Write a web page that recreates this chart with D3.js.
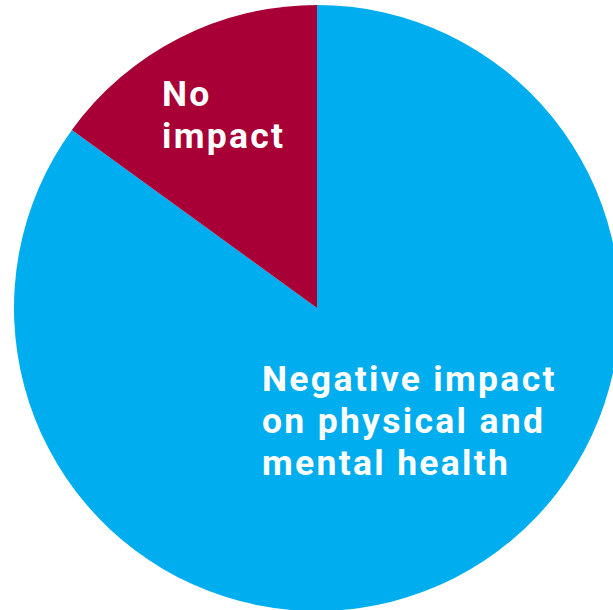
<!DOCTYPE html>
<html>
<head>
<meta charset="utf-8">
<script src="https://cdn.jsdelivr.net/npm/d3@7"></script>
<style>
  html, body { margin: 0; padding: 0; background: #ffffff; }
  svg { display: block; }
  .label { font-family: Roboto, sans-serif; font-weight: 700; fill: #ffffff; }
</style>
</head>
<body>
<svg id="chart" width="613" height="610"></svg>
<script>
// Share of respondents by reported impact (percent)
const categories = ["Negative impact on physical and mental health", "No impact"];
const values = [85, 15];
const colors = ["#00adee", "#a80036"];
// Label lines as printed on each slice
const labelLines = [
  ["Negative impact", "on physical and", "mental health"],
  ["No", "impact"]
];

const width = 613, height = 610;
const cx = 317, cy = 308, radius = 303;

const svg = d3.select("#chart");
const g = svg.append("g").attr("transform", `translate(${cx},${cy})`);

const pie = d3.pie().sort(null).value(d => d.value);
const arc = d3.arc().innerRadius(0).outerRadius(radius);

const data = categories.map((c, i) => ({ name: c, value: values[i], color: colors[i], lines: labelLines[i] }));
const arcs = pie(data);

g.selectAll("path.slice")
  .data(arcs)
  .join("path")
  .attr("class", "slice")
  .attr("d", arc)
  .attr("fill", d => d.data.color);

// Label anchors (left edge of the first baseline), relative to the pie centre
const labelAnchors = [
  { x: -55, y: 83 },
  { x: -155, y: -202 }
];
const fontSize = 35.5, lineHeight = 42;

arcs.forEach((a, i) => {
  g.selectAll(null)
    .data(a.data.lines)
    .join("text")
    .attr("class", "label")
    .attr("x", labelAnchors[i].x)
    .attr("y", (d, j) => labelAnchors[i].y + j * lineHeight)
    .style("font-size", fontSize + "px")
    .style("letter-spacing", "2.3px")
    .text(d => d);
});
</script>
</body>
</html>
